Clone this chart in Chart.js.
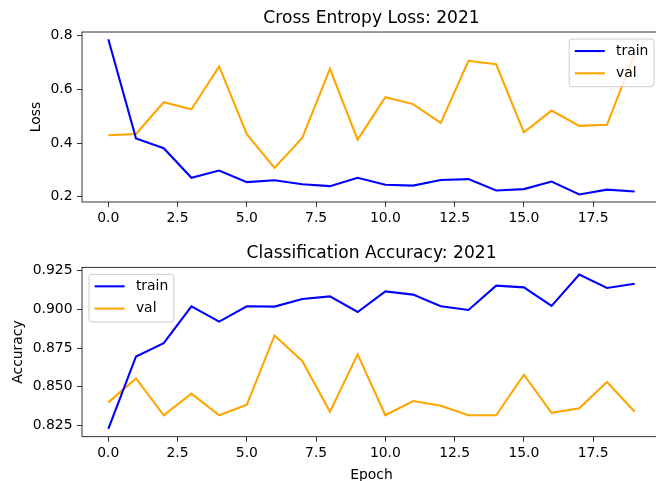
<!DOCTYPE html>
<html>
<head>
<meta charset="utf-8">
<script src="https://cdn.jsdelivr.net/npm/chart.js@4"></script>
<style>
html, body { margin: 0; padding: 0; background: #fff; overflow: hidden; width: 656px; height: 481px; }
canvas { position: absolute; left: 0; }
#lossChart { top: 0; }
#accChart { top: 240px; }
</style>
</head>
<body>
<canvas id="lossChart" width="664" height="240"></canvas>
<canvas id="accChart" width="664" height="241"></canvas>
<script>
const epochs = [0,1,2,3,4,5,6,7,8,9,10,11,12,13,14,15,16,17,18,19];
const lossTrain = [0.786,0.417,0.381,0.271,0.298,0.255,0.262,0.247,0.240,0.271,0.245,0.242,0.263,0.266,0.224,0.229,0.257,0.209,0.227,0.220];
const lossVal = [0.429,0.434,0.552,0.526,0.685,0.433,0.308,0.419,0.676,0.413,0.571,0.545,0.475,0.706,0.693,0.440,0.521,0.464,0.468,0.733];
const accTrain = [0.8229,0.8696,0.8781,0.9019,0.8920,0.9019,0.9017,0.9066,0.9083,0.8982,0.9115,0.9094,0.9019,0.8995,0.9152,0.9141,0.9021,0.9224,0.9137,0.9164];
const accVal = [0.8400,0.8554,0.8317,0.8456,0.8317,0.8385,0.8831,0.8667,0.8340,0.8709,0.8317,0.8409,0.8379,0.8317,0.8317,0.8578,0.8333,0.8362,0.8531,0.8340];
const xTicks = [0, 2.5, 5, 7.5, 10, 12.5, 15, 17.5];
const lossTicks = [0.2, 0.4, 0.6, 0.8];
const accTicks = [0.825, 0.85, 0.875, 0.9, 0.925];

Chart.defaults.font.family = '"DejaVu Sans", sans-serif';
Chart.defaults.font.size = 13.9;
Chart.defaults.color = '#000';

// matplotlib-like frame + legend inside the axes
const axesDecor = {
  id: 'axesDecor',
  afterDatasetsDraw(chart, args, opts) {
    const ctx = chart.ctx, a = chart.chartArea;
    ctx.save();
    ctx.strokeStyle = '#000';
    ctx.lineWidth = 0.8;
    ctx.strokeRect(a.left, a.top, a.right - a.left, a.bottom - a.top);

    const pad = 5.6, handle = 30, gap = 11.3, rowGap = 22.3;
    ctx.font = '13.9px "DejaVu Sans"';
    const sets = chart.data.datasets;
    const tw = Math.max(...sets.map(d => ctx.measureText(d.label).width));
    const w = pad + handle + gap + tw + pad;
    const h = 47.7;
    const x = opts.corner === 'right' ? a.right - 7 - w : a.left + 7;
    const y = a.top + 7;
    ctx.beginPath();
    ctx.roundRect(x, y, w, h, 3);
    ctx.fillStyle = 'rgba(255,255,255,0.8)';
    ctx.fill();
    ctx.strokeStyle = '#cccccc';
    ctx.lineWidth = 1;
    ctx.stroke();
    sets.forEach((d, i) => {
      const cy = y + 12 + i * rowGap;
      ctx.strokeStyle = d.borderColor;
      ctx.lineWidth = 2.1;
      ctx.beginPath();
      ctx.moveTo(x + pad, cy);
      ctx.lineTo(x + pad + handle, cy);
      ctx.stroke();
      ctx.fillStyle = '#000';
      ctx.textBaseline = 'middle';
      ctx.textAlign = 'left';
      ctx.fillText(d.label, x + pad + handle + gap, cy);
    });
    ctx.restore();
  }
};

function series(ys) {
  return epochs.map((e, i) => ({ x: e, y: ys[i] }));
}

function makeChart(id, o) {
  return new Chart(document.getElementById(id), {
    type: 'line',
    data: {
      datasets: [
        { label: 'train', data: series(o.train), borderColor: '#0000ff', borderWidth: 2.1, pointRadius: 0, tension: 0, fill: false },
        { label: 'val', data: series(o.val), borderColor: '#ffa500', borderWidth: 2.1, pointRadius: 0, tension: 0, fill: false }
      ]
    },
    options: {
      responsive: false,
      animation: false,
      devicePixelRatio: 1,
      layout: { padding: { left: o.padLeft, right: 3, top: 0, bottom: 0 } },
      plugins: {
        legend: { display: false },
        tooltip: { enabled: false },
        title: {
          display: true, text: o.title, color: '#000', fullSize: false,
          font: { size: 17.1, weight: 'normal' },
          padding: o.titlePad
        },
        axesDecor: { corner: o.corner }
      },
      scales: {
        x: {
          type: 'linear', min: -0.95, max: 19.95,
          afterBuildTicks: s => { s.ticks = xTicks.map(v => ({ value: v })); },
          afterFit: s => { s.height = o.xHeight; },
          ticks: { autoSkip: false, maxRotation: 0, padding: 3, callback: v => v.toFixed(1) },
          grid: { drawOnChartArea: false, drawTicks: true, tickLength: 5, color: '#000', lineWidth: 0.8 },
          border: { display: false },
          title: { display: !!o.xTitle, text: o.xTitle, padding: { top: 0, bottom: -2.5 } }
        },
        y: {
          min: o.yMin, max: o.yMax,
          afterBuildTicks: s => { s.ticks = o.yTicks.map(v => ({ value: v })); },
          afterFit: s => { s.width = o.yWidth; },
          ticks: { autoSkip: false, padding: 4.5, callback: v => v.toFixed(o.digits) },
          grid: { drawOnChartArea: false, drawTicks: true, tickLength: 5, color: '#000', lineWidth: 0.8 },
          border: { display: false },
          title: { display: true, text: o.yTitle, padding: { top: 0, bottom: 0 } }
        }
      }
    },
    plugins: [axesDecor]
  });
}

makeChart('lossChart', {
  title: 'Cross Entropy Loss: 2021', train: lossTrain, val: lossVal,
  yMin: 0.181, yMax: 0.813, yTicks: lossTicks, digits: 1, yTitle: 'Loss', xTitle: '',
  padLeft: 28, yWidth: 54, xHeight: 38, corner: 'right',
  titlePad: { top: 8.3, bottom: 3.2 }
});

makeChart('accChart', {
  title: 'Classification Accuracy: 2021', train: accTrain, val: accVal,
  yMin: 0.8179, yMax: 0.927, yTicks: accTicks, digits: 3, yTitle: 'Accuracy', xTitle: 'Epoch',
  padLeft: 10, yWidth: 72, xHeight: 44.3, corner: 'left',
  titlePad: { top: 3.1, bottom: 3.7 }
});
</script>
</body>
</html>
